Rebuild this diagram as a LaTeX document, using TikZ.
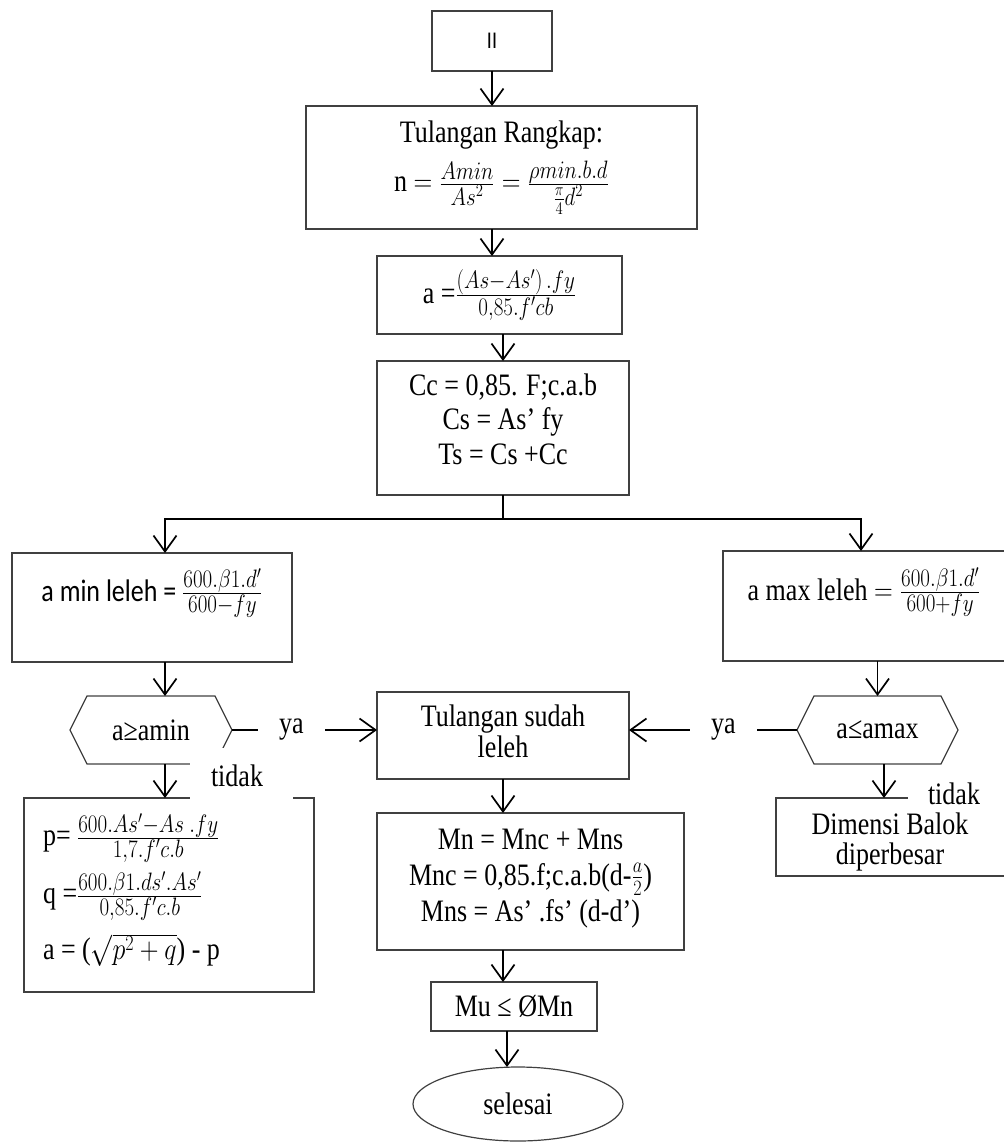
\RequirePackage{fix-cm}
\documentclass[tikz,border=0pt]{standalone}
\usepackage{graphicx}
\usepackage{fontspec}
\setmainfont{Liberation Serif}
\newfontfamily\calibrifont{Carlito}
\usetikzlibrary{arrows.meta,calc,shapes.geometric}

% fraction with numerator and denominator set at a fixed reduced size
\newcommand{\ffrac}[2]{\frac{\hbox{\fontsize{21}{24}\selectfont$#1$}}{\hbox{\fontsize{21}{24}\selectfont$#2$}}}
% centred text block, set slightly taller than wide
\newcommand{\tl}[1]{\scalebox{1}[1.2]{\begin{tabular}{@{}c@{}}#1\end{tabular}}}
% single line, set slightly taller than wide
\newcommand{\tlx}[1]{\scalebox{1}[1.2]{#1}}

\begin{document}
\begin{tikzpicture}[x=1pt,y=-1pt,
  every node/.style={font=\fontsize{26}{29}\selectfont, inner sep=0pt, outer sep=0pt},
  box/.style={draw=black!75, line width=1.2pt, rectangle},
  flow/.style={draw=black, line width=1.7pt, -{Straight Barb[length=16pt,width=23pt,line width=1.7pt]}},
  plain/.style={draw=black, line width=1.7pt},
  gap/.style={fill=white}
]
\useasboundingbox (0,0) rectangle (1003,1142);

% ---- main column boxes ----
\node[box, minimum width=120pt, minimum height=60pt] (ii) at (492,41) {\tlx{\fontsize{20}{24}\calibrifont II}};
\node[box, minimum width=391pt, minimum height=123pt] (rangkap) at (501.5,167.5) {};
\node (rangkaptext) at (501.5,166)
  {\tl{Tulangan Rangkap:\\[7pt] n $= \ffrac{Amin}{As^2} = \ffrac{\rho min.b.d}{\frac{\pi}{4}d^2}$}};
\node[box, minimum width=245pt, minimum height=78pt] (abox) at (499.5,295)
  {\tlx{a =$\ffrac{(As{-}As')\,.fy}{0{,}85.f'cb}$}};
\node[box, minimum width=252pt, minimum height=134pt] (cc) at (503,428) {};
\node (cctext) at (503,423) {\tl{Cc = 0,85. F;c.a.b\\Cs = As’ fy\\Ts = Cs +Cc}};

% ---- branch boxes ----
\node[box, minimum width=280pt, minimum height=109pt] (amin) at (152,607.5) {};
\node (amintext) at (152,593) {\tlx{\calibrifont a min leleh = $\ffrac{600.\beta 1.d'}{600{-}fy}$}};
\node[box, minimum width=285pt, minimum height=110pt] (amax) at (865.5,606) {};
\node (amaxtext) at (864,592) {\tlx{a max leleh $= \ffrac{600.\beta 1.d'}{600{+}fy}$}};

% ---- decisions (hexagons) ----
\node[minimum width=162pt, minimum height=68pt] (hexamin) at (151,730) {\tlx{a≥amin}};
\node[minimum width=161pt, minimum height=68pt] (hexamax) at (877.5,730) {\tlx{a≤amax}};
\foreach \h in {hexamin,hexamax}{
  \draw[box] (\h.west) -- ($(\h.north west)+(17,0)$) -- ($(\h.north east)+(-17,0)$)
    -- (\h.east) -- ($(\h.south east)+(-17,0)$) -- ($(\h.south west)+(17,0)$) -- cycle;
}

% ---- result boxes ----
\node[box, minimum width=252pt, minimum height=87pt,
      font=\fontsize{26}{25}\selectfont] (sudah) at (503,735.5) {\tl{Tulangan sudah\\leleh}};
\node[box, minimum width=290pt, minimum height=194pt] (pbox) at (169,895) {};
\node[anchor=west] (pline) at (43,838) {\tlx{p= $\ffrac{600.As'{-}As\ .fy}{1{,}7.f'c.b}$}};
\node[anchor=west] (qline) at (43,896) {\tlx{q =$\ffrac{600.\beta 1.ds'.As'}{0{,}85.f'c.b}$}};
\node[anchor=west] (aline) at (43,950) {\tlx{a = ($\sqrt{p^2+q}$) - p}};
\node[box, minimum width=232pt, minimum height=78pt] (dimensi) at (892,837) {};
\node[font=\fontsize{26}{25}\selectfont] (dimtext) at (890,843) {\tl{Dimensi Balok\\diperbesar}};
\node[box, minimum width=307pt, minimum height=137pt] (mn) at (530.5,881.5) {};
\node[font=\fontsize{26}{30}\selectfont] (mntext) at (530.5,878)
  {\tl{Mn = Mnc + Mns\\Mnc = 0,85.f;c.a.b(d-$\frac{a}{2}$)\\Mns = As’ .fs’ (d-d’)}};
\node[box, minimum width=166pt, minimum height=49pt] (mu) at (514,1006.5) {\tlx{Mu ≤ ØMn}};
\node[draw=black!75, line width=1.2pt, ellipse, minimum width=210pt, minimum height=74pt] (end) at (518,1104) {\tlx{selesai}};

% ---- connectors ----
\coordinate (splitL) at (165,519);
\coordinate (splitR) at (861,519);
\draw[flow] (ii.south) -- (ii.south |- rangkap.north);
\draw[flow] (rangkap.south -| ii.south) -- (abox.north -| ii.south);
\draw[flow] (abox.south -| cc.north) -- (cc.north);
\draw[plain] (cc.south) -- (cc.south |- splitL);
\draw[flow] (cc.south |- splitL) -- (splitL) -- (splitL |- amin.north);
\draw[flow] (cc.south |- splitR) -- (splitR) -- (splitR |- amax.north);
\draw[flow] (amin.south -| splitL) -- (hexamin.north -| splitL);
\draw[flow] (hexamin.south -| splitL) -- (pbox.north -| splitL);
\draw[flow] (amax.south -| hexamax.north) -- (hexamax.north);
\coordinate (r2) at ($(hexamax.south)+(6.5,0)$);
\draw[flow] (r2) -- (r2 |- dimensi.north);
\draw[flow] (hexamin.east) -- node[gap, pos=0.41, minimum width=67pt, minimum height=40pt] (ya1) {\tlx{ya}} (sudah.west |- hexamin.east);
\draw[flow] (hexamax.west) -- node[gap, pos=0.4375, minimum width=67pt, minimum height=40pt] (ya2) {\tlx{ya}} (sudah.east |- hexamax.west);
\draw[flow] (sudah.south) -- (sudah.south |- mn.north);
\draw[flow] (mn.south -| sudah.south) -- (mu.north -| sudah.south);
\coordinate (m1) at ($(mu.south)+(-7,0)$);
\draw[flow] (m1) -- (m1 |- end.north);

% ---- "tidak" labels on white ground ----
\node[gap, minimum width=103pt, minimum height=51pt] (tidak1) at (241.5,773.5) {};
\node (tidak1text) at (237,776) {\tlx{tidak}};
\node[gap, minimum width=96pt, minimum height=30pt] (tidak2) at (956,792) {};
\node (tidak2text) at (954,794) {\tlx{tidak}};
\end{tikzpicture}
\end{document}
